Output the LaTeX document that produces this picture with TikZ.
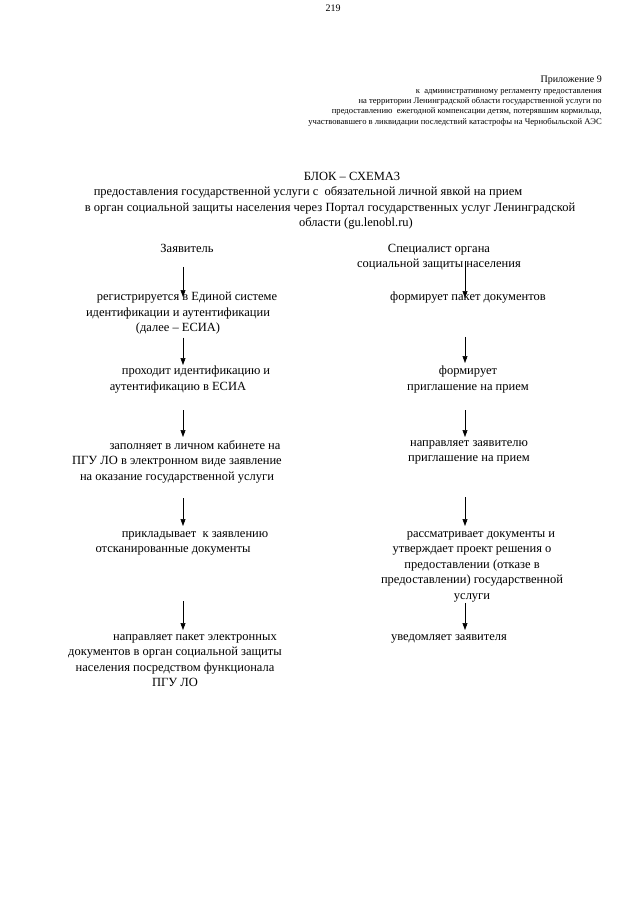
\documentclass[tikz,border=0pt]{standalone}
\usepackage{fontspec}
\setmainfont{Liberation Serif}
\usetikzlibrary{positioning,arrows.meta}

\tikzset{
  txt/.style={inner sep=0pt, anchor=north, align=center, font=\fontsize{12.5}{15.5}\selectfont},
  note/.style={inner sep=0pt, align=right, font=\fontsize{8.6}{10.3}\selectfont},
  arr/.style={-{Triangle[length=7pt,width=5pt]}, line width=0.6pt},
}

\begin{document}
\begin{tikzpicture}[x=1pt,y=-1pt]
  \useasboundingbox (0,0) rectangle (640,905);

  % page number and heading
  \node[inner sep=0pt, font=\fontsize{10}{12}\selectfont] (page) at (333,8) {219};
  \node[inner sep=0pt, anchor=east, font=\fontsize{10}{12}\selectfont] (app) at (602,80) {Приложение 9};
  \node[note, anchor=north east] (appnote) at (602,89) {к\ \ административному регламенту предоставления\\на территории Ленинградской области государственной услуги по\\предоставлению\ \ ежегодной компенсации детям, потерявшим кормильца,\\участвовавшего в ликвидации последствий катастрофы на Чернобыльской АЭС};

  \node[txt] (title) at (330,172) {\hspace*{44pt}БЛОК – СХЕМА3\\предоставления государственной услуги с\ \ обязательной личной явкой на прием\hspace*{44pt}\null\\в орган социальной защиты населения через Портал государственных услуг Ленинградской\\\hspace*{52pt}области (gu.lenobl.ru)};

  % columns
  \coordinate (cL) at (183,0);
  \coordinate (cR) at (465,0);

  % applicant
  \node[txt] (zv) at (187,244) {Заявитель};
  \node[txt] (reg) at (178,292) {\hspace*{18pt}регистрируется в Единой системе\\идентификации и аутентификации\\(далее – ЕСИА)};
  \node[txt] (pr) at (178,366) {\hspace*{36pt}проходит идентификацию и\\аутентификацию в ЕСИА};
  \node[txt] (zap) at (177,440) {\hspace*{36pt}заполняет в личном кабинете на\\ПГУ ЛО в электронном виде заявление\\на оказание государственной услуги};
  \node[txt] (prk) at (173,531) {\hspace*{44pt}прикладывает\ \ к заявлению\\отсканированные документы};
  \node[txt] (np) at (175,634) {\hspace*{40pt}направляет пакет электронных\\документов в орган социальной защиты\\населения посредством функционала\\ПГУ ЛО};

  % specialist
  \node[txt] (sp) at (439,244) {Специалист органа\\социальной защиты населения};
  \node[txt] (fp) at (468,292) {формирует пакет документов};
  \node[txt] (fi) at (468,366) {формирует\\приглашение на прием};
  \node[txt] (nz) at (469,440) {направляет заявителю\\приглашение на прием};
  \node[txt] (rd) at (472,531) {\hspace*{18pt}рассматривает документы и\\утверждает проект решения о\\предоставлении (отказе в\\предоставлении) государственной\\услуги};
  \node[txt] (uv) at (449,634) {уведомляет заявителя};

  \draw[arr, shorten <=14pt, shorten >=-5pt] (zv.south -| cL) -- (reg.north -| cL);
  \draw[arr, shorten <=3pt, shorten >=1pt] (reg.south -| cL) -- (pr.north -| cL);
  \draw[arr, shorten <=17pt, shorten >=3pt] (pr.south -| cL) -- (zap.north -| cL);
  \draw[arr, shorten <=15pt, shorten >=5pt] (zap.south -| cL) -- (prk.north -| cL);
  \draw[arr, shorten <=46pt, shorten >=4pt] (prk.south -| cL) -- (np.north -| cL);

  \draw[arr, shorten <=-10pt, shorten >=-6pt] (sp.south -| cR) -- (fp.north -| cR);
  \draw[arr, shorten <=33pt, shorten >=3pt] (fp.south -| cR) -- (fi.north -| cR);
  \draw[arr, shorten <=17pt, shorten >=3pt] (fi.south -| cR) -- (nz.north -| cR);
  \draw[arr, shorten <=33pt, shorten >=5pt] (nz.south -| cR) -- (rd.north -| cR);
  \draw[arr, shorten <=1pt, shorten >=4pt] (rd.south -| cR) -- (uv.north -| cR);
\end{tikzpicture}
\end{document}
